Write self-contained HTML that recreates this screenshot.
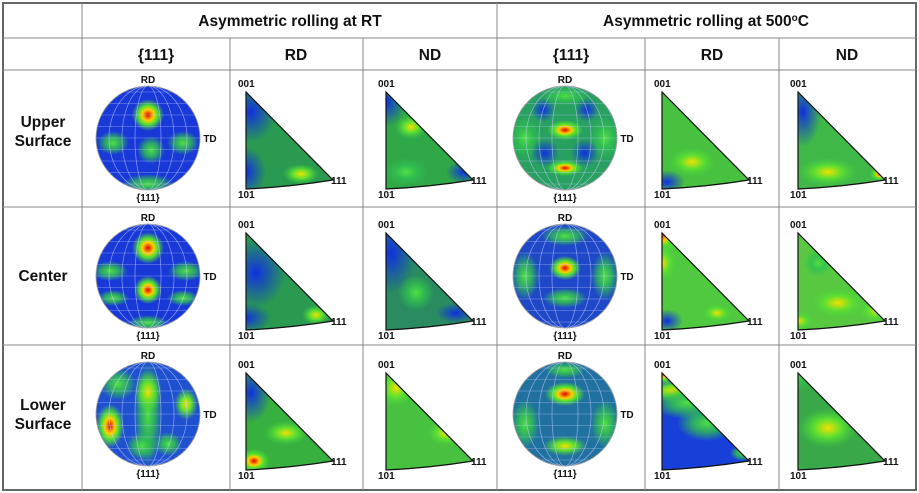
<!DOCTYPE html>
<html><head><meta charset="utf-8"><style>
body{margin:0;background:#fff;font-family:"Liberation Sans",Arial,sans-serif}
svg{display:block}
</style></head><body>
<svg id="s" width="919" height="493" xmlns="http://www.w3.org/2000/svg">
<defs>
<radialGradient id="gR"><stop offset="0" stop-color="#e00000"/><stop offset=".35" stop-color="#ffd000"/><stop offset=".6" stop-color="#50e030"/><stop offset="1" stop-color="#50e030" stop-opacity="0"/></radialGradient>
<radialGradient id="gY"><stop offset="0" stop-color="#f0e000"/><stop offset=".45" stop-color="#60e030"/><stop offset="1" stop-color="#40d040" stop-opacity="0"/></radialGradient>
<radialGradient id="gG"><stop offset="0" stop-color="#50e040"/><stop offset=".5" stop-color="#30c050" stop-opacity=".8"/><stop offset="1" stop-color="#30c050" stop-opacity="0"/></radialGradient>
<radialGradient id="gB"><stop offset="0" stop-color="#1030e0"/><stop offset="1" stop-color="#1030e0" stop-opacity="0"/></radialGradient>
</defs>
<g id="grid" stroke="#888" stroke-width="1" fill="none">
<rect x="3" y="3" width="913" height="487" stroke="#666" stroke-width="2"/>
<line x1="3" y1="38" x2="916" y2="38"/><line x1="3" y1="70" x2="916" y2="70"/>
<line x1="3" y1="207" x2="916" y2="207"/><line x1="3" y1="345" x2="916" y2="345"/>
<line x1="82" y1="3" x2="82" y2="490"/><line x1="497" y1="3" x2="497" y2="490"/>
<line x1="230" y1="38" x2="230" y2="490"/><line x1="363" y1="38" x2="363" y2="490"/>
<line x1="645" y1="38" x2="645" y2="490"/><line x1="779" y1="38" x2="779" y2="490"/>
</g>
<g font-weight="bold" fill="#111" text-anchor="middle" font-size="15.5">
<text x="290" y="26">Asymmetric rolling at RT</text>
<text x="706" y="26">Asymmetric rolling at 500<tspan font-size="10" dy="-5">o</tspan><tspan dy="5">C</tspan></text>
<text x="156" y="60">{111}</text><text x="296" y="60">RD</text><text x="430" y="60">ND</text>
<text x="571" y="60">{111}</text><text x="712" y="60">RD</text><text x="847" y="60">ND</text>
<text x="43" y="127">Upper</text><text x="43" y="146">Surface</text>
<text x="43" y="281">Center</text>
<text x="43" y="410">Lower</text><text x="43" y="429">Surface</text>
</g>
<g id="plots"></g>
</svg>
<script>
var P=document.getElementById('plots'),h='';
function sp(c,x,y,rx,ry){return '<ellipse cx="'+x+'" cy="'+y+'" rx="'+rx+'" ry="'+(ry||rx)+'" fill="url(#'+c+')"/>';}
var circ=[
 [148,138,'#1838d8',[['gR',0,-23,16],['gG',-35,5,16,12],['gG',35,5,16,12],['gG',3,12,14],['gG',0,46,26,10]]],
 [148,276,'#1838d8',[['gR',0,-28,16],['gR',0,14,14],['gG',-38,-5,18,10],['gG',38,-5,18,10],['gG',-35,22,16,8],['gG',35,22,16,8],['gG',0,47,20,8]]],
 [148,414,'#1f50d0',[['gG',0,0,14,52],['gY',0,-22,14,22],['gR',-38,12,14,22],['gY',38,-10,12,16],['gG',-6,32,16,14],['gG',20,30,14,12],['gG',-30,-30,18,16]]],
 [565,138,'#28a060',[['gR',0,-8,18,10],['gR',0,30,18,8],['gG',-40,0,16,22],['gG',40,0,16,22],['gG',0,-42,24,10],['gB',-20,15,14],['gB',20,15,14],['gB',-22,-28,12],['gB',22,-28,12]]],
 [565,276,'#1e48c8',[['gR',0,-8,16,12],['gG',0,22,22,10],['gG',-40,0,14,24],['gG',40,0,14,24],['gG',0,-40,24,10]]],
 [565,414,'#2070a0',[['gR',0,-20,20,12],['gY',0,32,22,10],['gG',-40,10,14,24],['gG',40,10,14,24],['gG',0,-44,20,8]]]
];
circ.forEach(function(c,i){
 var x=c[0],y=c[1],r=52,id='cc'+i;
 h+='<clipPath id="'+id+'"><circle cx="'+x+'" cy="'+y+'" r="'+r+'"/></clipPath><g clip-path="url(#'+id+')"><rect x="'+(x-r)+'" y="'+(y-r)+'" width="'+2*r+'" height="'+2*r+'" fill="'+c[2]+'"/>';
 c[3].forEach(function(s){h+=sp(s[0],x+s[1],y+s[2],s[3],s[4]);});
 for(var k=-4;k<=4;k++){h+='<ellipse cx="'+x+'" cy="'+y+'" rx="'+Math.abs(k)*13+'" ry="'+r+'" fill="none" stroke="#c0d0ff" stroke-opacity=".4" stroke-width=".7"/>';
  h+='<line x1="'+(x-r)+'" y1="'+(y+k*11.5)+'" x2="'+(x+r)+'" y2="'+(y+k*11.5)+'" stroke="#c0d0ff" stroke-opacity=".4" stroke-width=".7"/>';}
 h+='</g><circle cx="'+x+'" cy="'+y+'" r="'+r+'" fill="none" stroke="#999" stroke-width=".8"/>';
 h+='<g font-size="10" font-weight="bold" text-anchor="middle" fill="#111"><text x="'+x+'" y="'+(y-55)+'">RD</text><text x="'+(x+r+10)+'" y="'+(y+4)+'">TD</text><text x="'+x+'" y="'+(y+63)+'">{111}</text></g>';
});
var tri=[
 [246,92,'#2a9a50',[['gB',5,20,25,30],['gB',0,80,20,25],['gY',55,82,18,10]]],
 [386,92,'#30a848',[['gB',0,10,20,25],['gB',78,80,18,12],['gY',25,35,16,12],['gG',20,80,22,14]]],
 [662,92,'#48c040',[['gB',5,90,18,12],['gY',30,70,25,15]]],
 [798,92,'#40b848',[['gB',5,20,18,35],['gY',30,80,30,14],['gR',82,82,10,7]]],
 [246,233,'#2a9a50',[['gB',10,40,30,35],['gB',0,85,25,15],['gY',70,82,14,10]]],
 [386,233,'#2a8a60',[['gB',5,20,25,40],['gB',70,80,20,10],['gG',30,60,18,18]]],
 [662,233,'#50c840',[['gR',0,0,18,22],['gY',0,30,16,20],['gB',5,88,16,12],['gY',55,80,16,10]]],
 [798,233,'#58c840',[['gY',0,88,18,10],['gY',80,78,22,12],['gY',40,70,30,16],['gG',20,30,14,14]]],
 [246,373,'#38b040',[['gB',5,20,20,30],['gR',8,88,16,12],['gY',40,60,22,12]]],
 [386,373,'#48c040',[['gY',10,15,20,20],['gY',60,60,20,14]]],
 [662,373,'#1840d8',[['gR',0,0,20,12],['gY',10,18,24,12],['gG',25,30,35,16],['gG',45,50,30,18],['gG',80,80,12,8]]],
 [798,373,'#38a848',[['gG',0,0,20,20],['gY',30,55,30,20]]]
];
tri.forEach(function(t,i){
 var x=t[0],y=t[1],w=87,ht=97,id='ct'+i;
 var d='M'+x+','+y+' L'+(x+w)+','+(y+ht-9)+' Q'+(x+w/2)+','+(y+ht-2)+' '+x+','+(y+ht)+' Z';
 h+='<clipPath id="'+id+'"><path d="'+d+'"/></clipPath><g clip-path="url(#'+id+')"><rect x="'+x+'" y="'+y+'" width="'+w+'" height="'+ht+'" fill="'+t[2]+'"/>';
 t[3].forEach(function(s){h+=sp(s[0],x+s[1],y+s[2],s[3],s[4]);});
 h+='</g><path d="'+d+'" fill="none" stroke="#111" stroke-width="1.2"/>';
 h+='<g font-size="10" font-weight="bold" fill="#111"><text x="'+(x-8)+'" y="'+(y-5)+'">001</text><text x="'+(x-8)+'" y="'+(y+ht+9)+'">101</text><text x="'+(x+w-2)+'" y="'+(y+ht-5)+'">111</text></g>';
});
P.innerHTML=h;
</script>
</body></html>
